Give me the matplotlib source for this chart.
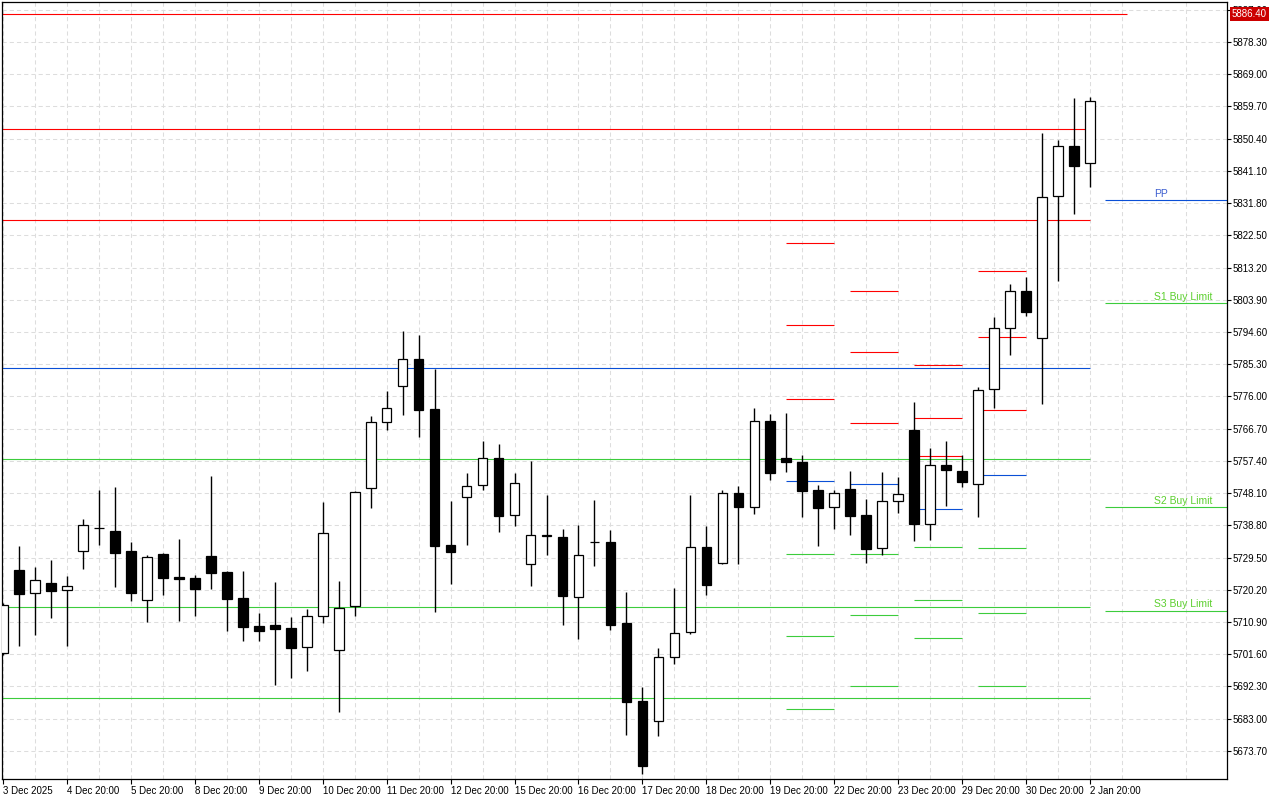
import numpy as np
import matplotlib
matplotlib.use('Agg')
import matplotlib.pyplot as plt

# H6 candles, 3 Dec 2025 .. 2 Jan 2026
opens = [5701.9, 5725.9, 5719.2, 5722.1, 5720.1, 5731.3, 5738.0, 5737.1, 5731.4, 5717.2,
         5730.5, 5723.9, 5723.6, 5730.0, 5725.3, 5717.8, 5709.8, 5710.0, 5709.2, 5703.6,
         5712.6, 5702.7, 5715.6, 5749.5, 5768.5, 5778.9, 5786.7, 5772.3, 5733.1, 5746.9,
         5750.4, 5758.2, 5741.7, 5727.6, 5735.8, 5735.4, 5718.0, 5734.0, 5733.9, 5710.6,
         5688.1, 5682.4, 5700.7, 5707.9, 5732.5, 5728.0, 5748.1, 5744.0, 5768.8, 5758.2,
         5757.1, 5748.9, 5744.0, 5749.3, 5741.7, 5732.2, 5745.7, 5766.2, 5739.3, 5756.2,
         5754.4, 5750.7, 5778.1, 5795.7, 5806.3, 5793.0, 5833.9, 5848.2, 5843.5]
highs = [5716.4, 5732.8, 5726.7, 5728.8, 5724.1, 5740.6, 5749.0, 5750.0, 5734.0, 5730.2,
         5730.8, 5734.9, 5724.5, 5753.1, 5725.6, 5725.6, 5713.5, 5722.5, 5712.4, 5714.7,
         5745.5, 5722.7, 5748.7, 5770.3, 5777.6, 5794.9, 5793.7, 5783.9, 5745.8, 5753.9,
         5763.2, 5762.3, 5753.9, 5757.4, 5747.6, 5737.8, 5738.9, 5746.1, 5737.4, 5719.6,
         5692.2, 5703.4, 5720.7, 5747.6, 5738.6, 5748.9, 5750.1, 5772.7, 5770.9, 5771.2,
         5759.0, 5750.5, 5749.0, 5754.5, 5746.4, 5754.2, 5752.8, 5774.4, 5761.2, 5763.2,
         5759.0, 5778.6, 5798.9, 5808.4, 5810.5, 5852.1, 5850.0, 5862.2, 5862.4]
lows = [5701.4, 5704.1, 5707.2, 5712.2, 5704.1, 5726.3, 5733.2, 5721.1, 5717.1, 5711.0,
        5718.8, 5711.3, 5712.7, 5720.5, 5708.4, 5705.5, 5705.5, 5692.8, 5694.8, 5696.9,
        5710.7, 5685.0, 5712.7, 5743.9, 5766.4, 5770.7, 5764.4, 5713.9, 5722.0, 5733.2,
        5749.1, 5737.0, 5738.7, 5721.4, 5730.3, 5710.1, 5706.0, 5727.2, 5708.7, 5678.4,
        5667.1, 5678.1, 5698.9, 5707.5, 5718.8, 5727.7, 5727.7, 5742.2, 5752.0, 5754.3,
        5741.3, 5732.9, 5737.8, 5736.1, 5728.0, 5730.2, 5742.5, 5734.4, 5734.7, 5744.4,
        5749.9, 5741.3, 5772.8, 5788.1, 5799.3, 5773.9, 5809.3, 5828.8, 5836.5]
closes = [5715.7, 5719.1, 5722.9, 5719.9, 5721.4, 5738.8, 5737.9, 5730.9, 5719.4, 5729.6,
          5723.7, 5723.4, 5720.5, 5725.1, 5717.6, 5709.6, 5708.4, 5709.0, 5703.5, 5712.6,
          5736.5, 5714.9, 5748.3, 5768.5, 5772.6, 5786.7, 5772.2, 5732.9, 5731.2, 5750.1,
          5758.2, 5741.6, 5750.9, 5735.9, 5736.0, 5718.3, 5730.2, 5734.0, 5710.1, 5687.9,
          5669.4, 5700.7, 5707.7, 5732.5, 5721.7, 5748.1, 5744.0, 5768.8, 5754.0, 5757.0,
          5748.8, 5743.9, 5748.1, 5741.6, 5732.1, 5745.7, 5747.8, 5739.3, 5756.1, 5754.9,
          5751.2, 5777.8, 5795.7, 5806.3, 5800.4, 5833.7, 5848.2, 5842.6, 5861.4]

date_labels = ['3 Dec 2025', '4 Dec 20:00', '5 Dec 20:00', '8 Dec 20:00', '9 Dec 20:00',
               '10 Dec 20:00', '11 Dec 20:00', '12 Dec 20:00', '15 Dec 20:00', '16 Dec 20:00',
               '17 Dec 20:00', '18 Dec 20:00', '19 Dec 20:00', '22 Dec 20:00', '23 Dec 20:00',
               '29 Dec 20:00', '30 Dec 20:00', '2 Jan 20:00']

# weekly pivot levels R3..S3 (drawn across the chart)
week_levels = [5853.1, 5826.8, 5784.1, 5757.9, 5715.2, 5688.9]
week_kinds = ['r', 'r', 'p', 's', 's', 's']
alert_price = 5886.4

# daily pivot levels R3, R2, R1, PP, S1, S2, S3
day_start = [49, 53, 57, 61]
day_levels = [[5820.3, 5796.6, 5775.2, 5751.5, 5730.5, 5706.8, 5685.7],
              [5806.4, 5788.8, 5768.3, 5750.7, 5730.5, 5712.8, 5692.4],
              [5785.0, 5769.8, 5758.7, 5743.4, 5732.5, 5717.2, 5706.2],
              [5812.1, 5793.1, 5772.0, 5753.2, 5732.2, 5713.5, 5692.4]]
day_kinds = ['r', 'r', 'r', 'p', 's', 's', 's']

# current levels with orders
order_levels = [5832.6, 5802.9, 5744.0, 5714.2]
order_names = ['PP', 'S1 Buy Limit', 'S2 Buy Limit', 'S3 Buy Limit']
order_kinds = ['p', 's', 's', 's']

ytick_top = 5887.6
ytick_step = 9.3

COLORS = {'r': '#ff0000', 'p': '#0a4fd6', 's': '#3ccc3c'}
TEXT_COLORS = {'p': '#3d5fd0', 's': '#5ccf2e'}

plt.rcParams['font.family'] = ['Liberation Sans', 'DejaVu Sans']
plt.rcParams['lines.scale_dashes'] = False

fig = plt.figure(figsize=(12.8, 8), dpi=100)
ax = fig.add_axes([2.3 / 1280, 21 / 800, (1227 - 2.3) / 1280, 777 / 800])

n = len(opens)
x = np.arange(n)
o = np.array(opens)
c = np.array(closes)
up = c >= o

# candles: wicks first, bodies on top
ax.vlines(x, lows, highs, color='black', linewidth=1.0, zorder=3)
ax.bar(x, np.abs(c - o), bottom=np.minimum(o, c), width=0.62,
       color=np.where(up, 'white', 'black'), edgecolor='black', linewidth=0.9, zorder=4)

last = n - 1
for lvl, kind in zip(week_levels, week_kinds):
    ax.hlines(lvl, -1, last, color=COLORS[kind], linewidth=0.8, zorder=2)
ax.hlines(alert_price, -1, last + 2.3, color=COLORS['r'], linewidth=0.8, zorder=2)

for start, levels in zip(day_start, day_levels):
    for lvl, kind in zip(levels, day_kinds):
        ax.hlines(lvl, start, start + 3, color=COLORS[kind], linewidth=0.8, zorder=2)

for lvl, name, kind in zip(order_levels, order_names, order_kinds):
    ax.hlines(lvl, last + 0.9, 80, color=COLORS[kind], linewidth=0.8, zorder=2)
    ax.text(last + 4.0, lvl + 0.9, name, color=TEXT_COLORS[kind], fontsize=7.5,
            ha='left', va='baseline', zorder=5)

ax.set_xlim(-0.02, 76.54)
ax.set_ylim(5665.6, 5889.84)

yticks = ytick_top - ytick_step * np.arange(24)
ax.set_yticks(yticks)
ax.set_yticklabels(['%.2f' % v for v in yticks])
ax.yaxis.tick_right()
ax.tick_params(axis='y', which='major', direction='out', length=3, width=0.8,
               pad=1, labelsize=7, colors='black')

ax.set_xticks(np.arange(0, n, 4))
ax.set_xticks(np.arange(2, n + 8, 4), minor=True)
ax.set_xticklabels(date_labels)
for lab in ax.get_xticklabels():
    lab.set_ha('left')
ax.tick_params(axis='x', which='major', direction='out', length=3.5, width=0.8,
               pad=1.5, labelsize=7, colors='black')
ax.tick_params(axis='x', which='minor', length=0)

ax.set_axisbelow(True)
ax.grid(True, which='both', axis='x', color='#dddddd', linewidth=0.75,
        linestyle=(0, (3.0, 2.2)))
ax.grid(True, which='major', axis='y', color='#dddddd', linewidth=0.75,
        linestyle=(0, (3.0, 2.2)))
for sp in ax.spines.values():
    sp.set_linewidth(0.9)
    sp.set_color('black')

# price tag of the alert line, drawn over the top tick label like the terminal does
ax.annotate('%.2f' % alert_price, xy=(1, alert_price), xycoords=('axes fraction', 'data'),
            xytext=(5, 0), textcoords='offset pixels', ha='left', va='center',
            fontsize=7, color='white', zorder=6, annotation_clip=False,
            bbox=dict(boxstyle='square,pad=0.2', fc='#cc0000', ec='none'))

fig.savefig('out.png', dpi=100)
